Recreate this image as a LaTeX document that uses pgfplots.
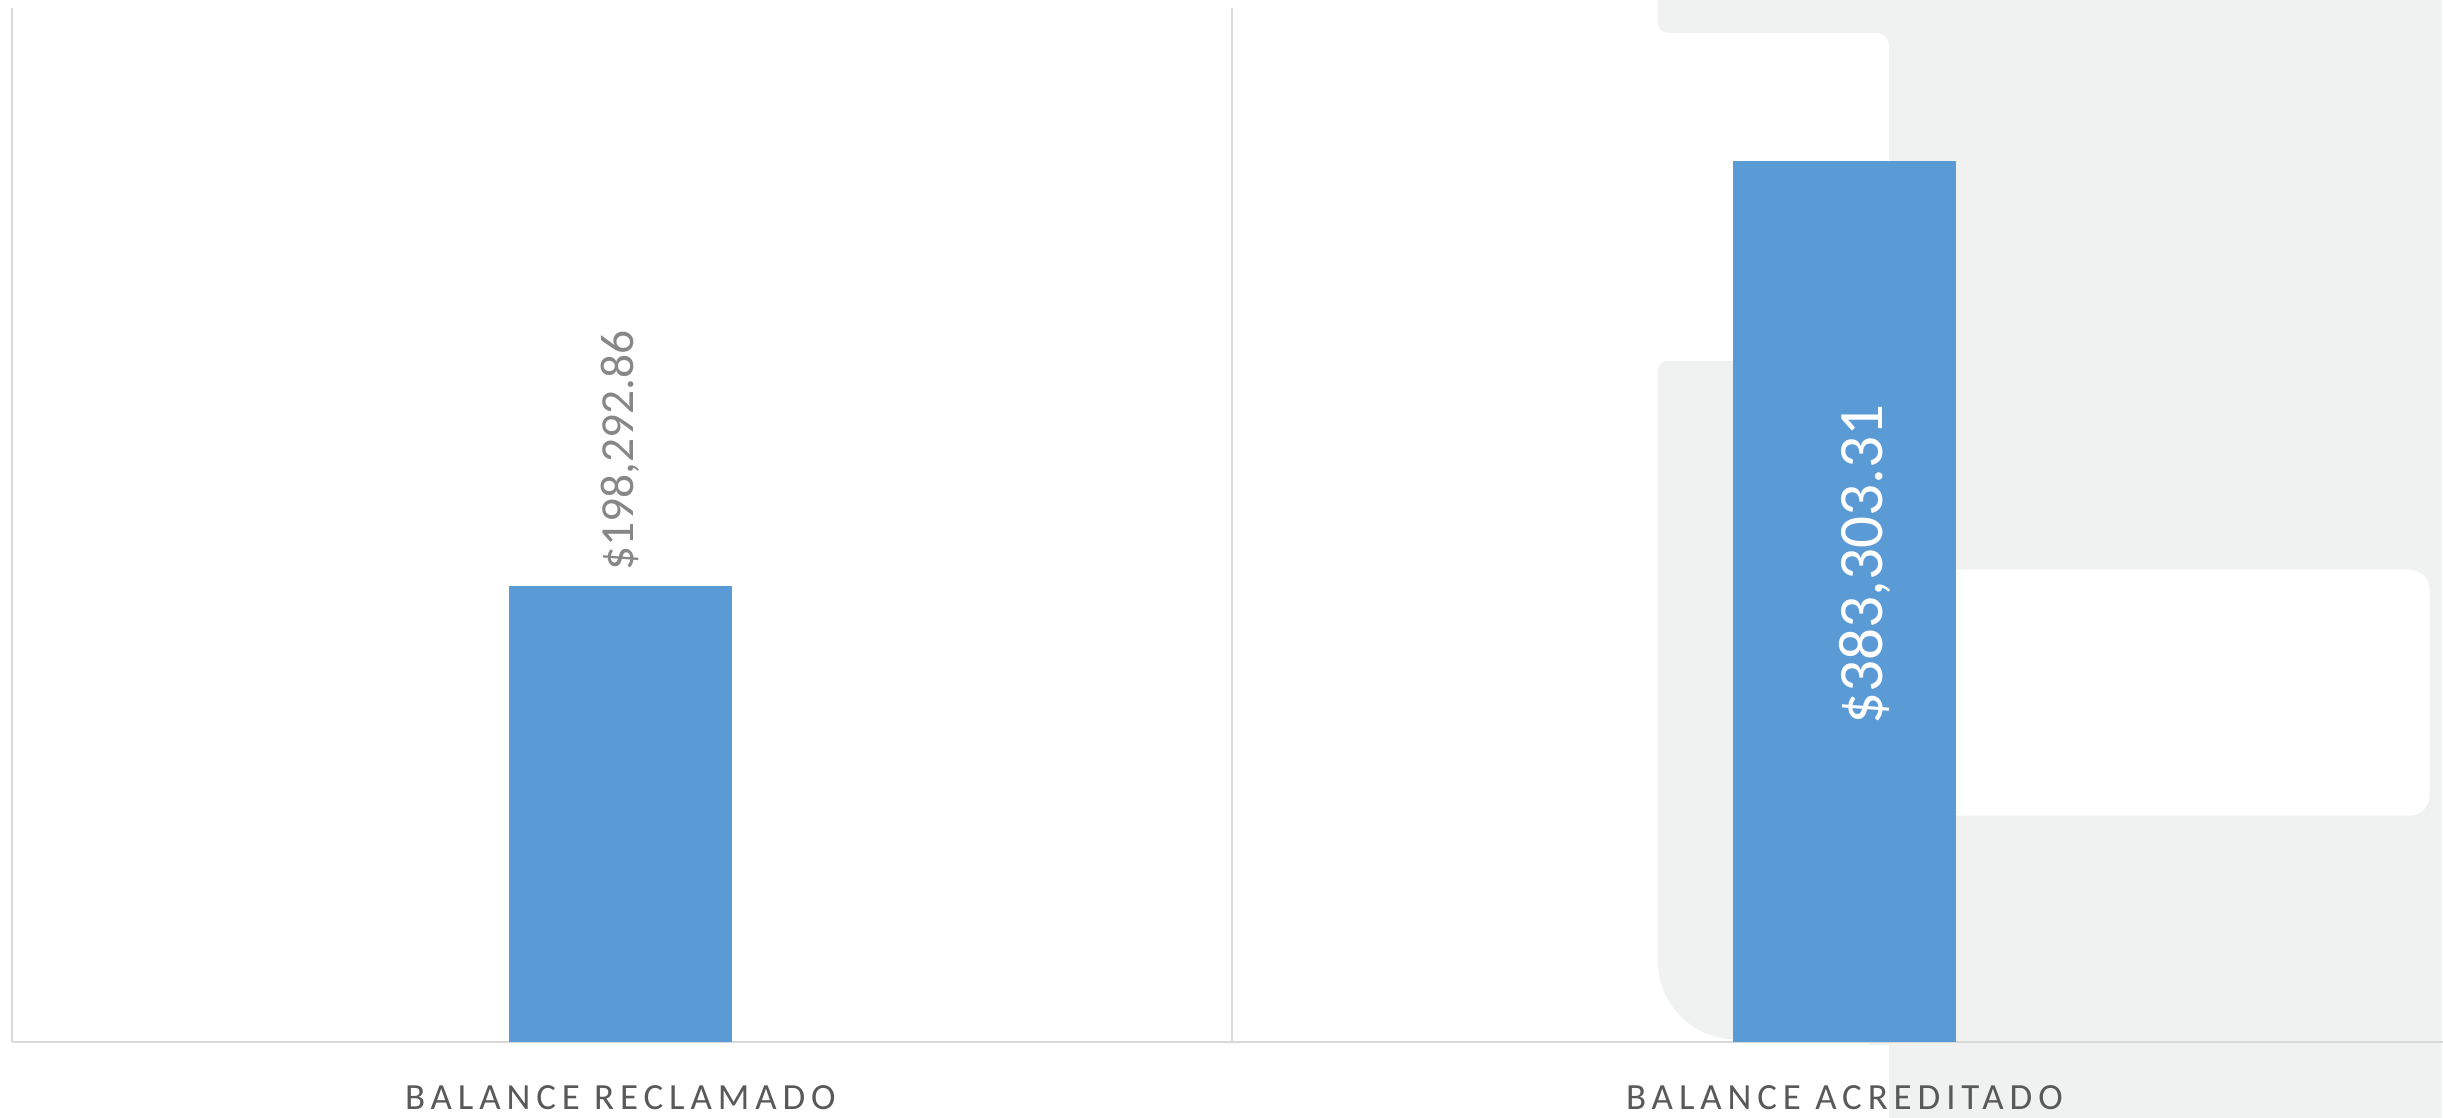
\documentclass[border=0pt]{standalone}
\usepackage{pgfplots}
\pgfplotsset{compat=1.18}
\usepackage{fontspec}
\setmainfont{Carlito}
\newfontfamily\catfont[LetterSpace=16]{Carlito}
\definecolor{barblue}{HTML}{5B9BD5}
\definecolor{bggray}{RGB}{240,241,241}
\definecolor{axisgray}{HTML}{D9D9D9}
\definecolor{cattext}{HTML}{595959}
\definecolor{lblgray}{HTML}{878787}

\begin{document}
\begin{tikzpicture}
\useasboundingbox (0,0) rectangle (24.43,11.18);
% background logo shapes, in pixel units from the top left
\begin{scope}[yshift=11.18cm, x=0.01cm, y=-0.01cm]
\clip (0,0) rectangle (2443,1118);
\fill[bggray] (1870,-20) rectangle (2460,1140);
\fill[bggray, rounded corners=0.1cm] (1659,-50) rectangle (1990,33);
\fill[bggray, rounded corners=0.78cm] (1659,500) rectangle (1990,1040);
\fill[bggray, rounded corners=0.1cm] (1659,361) rectangle (1990,800);
\fill[white, rounded corners=0.12cm] (1600,33) rectangle (1890,361);
\fill[white, rounded corners=0.2cm] (1940,570) rectangle (2431,816);
\fill[white] (1600,1046) rectangle (1890,1130);
\end{scope}

\begin{axis}[
  at={(0.12cm,0.76cm)}, anchor=south west,
  scale only axis, width=24.31cm, height=10.34cm,
  xmin=-0.497, xmax=1.489, ymin=0, ymax=450000,
  axis x line=bottom, axis y line=left,
  axis line style={-, draw=axisgray, line width=0.6pt},
  ytick=\empty,
  xtick={0,1}, xticklabels={BALANCE RECLAMADO, BALANCE ACREDITADO},
  major tick length=0pt,
  xticklabel style={font=\catfont\fontsize{10.5}{12}\selectfont, text=cattext, anchor=center, yshift=-0.555cm},
  extra x ticks={0.5}, extra x tick labels={},
  extra x tick style={xmajorgrids=true, major grid style={draw=axisgray, line width=0.6pt}},
  ybar, bar width=2.23cm,
  clip=false,
]
\addplot[fill=barblue, draw=none, bar shift=0pt,
  nodes near coords={\$198,292.86},
  nodes near coords style={rotate=90, anchor=west, inner sep=1.5mm,
    font=\fontsize{13.5}{16}\selectfont, text=lblgray}]
  coordinates {(0,198292.86)};
\addplot[fill=barblue, draw=none, bar shift=0pt,
  nodes near coords={\$383,303.31},
  nodes near coords style={xshift=0.2cm, yshift=-4.03cm, rotate=90, anchor=center,
    font=\fontsize{18}{21}\selectfont, text=white}]
  coordinates {(1,383303.31)};
\end{axis}
\end{tikzpicture}
\end{document}
